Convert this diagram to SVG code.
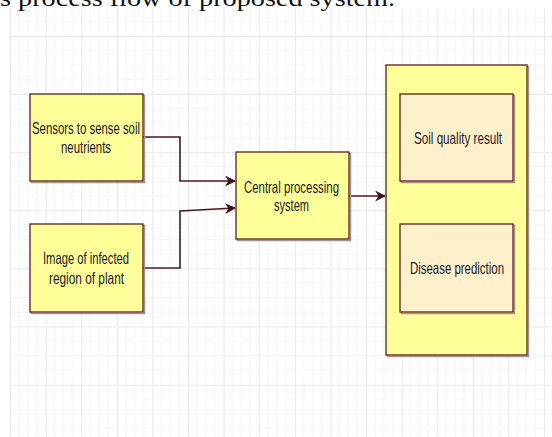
<svg xmlns="http://www.w3.org/2000/svg" width="552" height="437" viewBox="0 0 552 437">
<defs>
  <pattern id="grid" patternUnits="userSpaceOnUse" x="10" y="-22.1" width="35.6" height="58.1">
    <path d="M8.9 0V58.1M17.8 0V58.1M26.7 0V58.1M0 14.525H35.6M0 29.05H35.6M0 43.575H35.6" stroke="#f4f4f4" stroke-width="1" fill="none"/>
    <path d="M0.5 0V58.1M0 0.5H35.6" stroke="#e8e8e8" stroke-width="1" fill="none"/>
  </pattern>
  <marker id="arr" viewBox="0 0 10 10" refX="9" refY="5" markerWidth="11" markerHeight="11" markerUnits="userSpaceOnUse" orient="auto">
    <path d="M0 0L10 5L0 10L3 5z" fill="#3d1414"/>
  </marker>
  <style>
    .box{fill:#ffff99;stroke:#5a1e1e;stroke-width:1.3}
    .inner{fill:#fff0cc;stroke:#5a1e1e;stroke-width:1.3}
    .sh{fill:none;stroke:#a89090;stroke-width:1.5}
    .lbl{font-family:"Liberation Sans",Arial,sans-serif;font-size:16.5px;fill:#1a1a2a}
    .con{fill:none;stroke:#4a1a1a;stroke-width:1.6}
  </style>
</defs>
<rect width="552" height="437" fill="#ffffff"/>
<rect x="10" y="8" width="542" height="429" fill="url(#grid)"/>
<text x="0" y="5.5" font-family="'Liberation Serif','DejaVu Serif',serif" font-size="24" fill="#111" textLength="395" lengthAdjust="spacingAndGlyphs">s process flow of proposed system.</text>

<g id="connectors">
  <path class="con" d="M143 137H180V181H235" marker-end="url(#arr)"/>
  <path class="con" d="M143 268H180V211L235 208" marker-end="url(#arr)"/>
  <path class="con" d="M349 196H385" marker-end="url(#arr)"/>
</g>

<g id="sensors">
  <rect class="sh" x="31.5" y="95.5" width="113" height="87"/>
  <rect class="box" x="30" y="94" width="113" height="87"/>
  <text class="lbl" x="32" y="134.3" textLength="108" lengthAdjust="spacingAndGlyphs">Sensors to sense soil</text>
  <text class="lbl" x="61" y="153.3" textLength="50" lengthAdjust="spacingAndGlyphs">neutrients</text>
</g>

<g id="image">
  <rect class="sh" x="31.5" y="225.5" width="113" height="88"/>
  <rect class="box" x="30" y="224" width="113" height="88"/>
  <text class="lbl" x="43" y="264.3" textLength="86" lengthAdjust="spacingAndGlyphs">Image of infected</text>
  <text class="lbl" x="49" y="283.5" textLength="75" lengthAdjust="spacingAndGlyphs">region of plant</text>
</g>

<g id="central">
  <rect class="sh" x="237.5" y="153.5" width="113" height="87"/>
  <rect class="box" x="236" y="152" width="113" height="87"/>
  <text class="lbl" x="244" y="192.7" textLength="95" lengthAdjust="spacingAndGlyphs">Central processing</text>
  <text class="lbl" x="274" y="211" textLength="35" lengthAdjust="spacingAndGlyphs">system</text>
</g>

<g id="results">
  <rect class="sh" x="387.5" y="66.5" width="141" height="290"/>
  <rect class="box" x="386" y="65" width="141" height="290"/>
</g>

<g id="soil-quality">
  <rect class="sh" x="401.5" y="95.5" width="113" height="87"/>
  <rect class="inner" x="400" y="94" width="113" height="87"/>
  <text class="lbl" x="414" y="144.3" textLength="88" lengthAdjust="spacingAndGlyphs">Soil quality result</text>
</g>

<g id="disease">
  <rect class="sh" x="401.5" y="225.5" width="113" height="88"/>
  <rect class="inner" x="400" y="224" width="113" height="88"/>
  <text class="lbl" x="410" y="274.3" textLength="94" lengthAdjust="spacingAndGlyphs">Disease prediction</text>
</g>
</svg>
